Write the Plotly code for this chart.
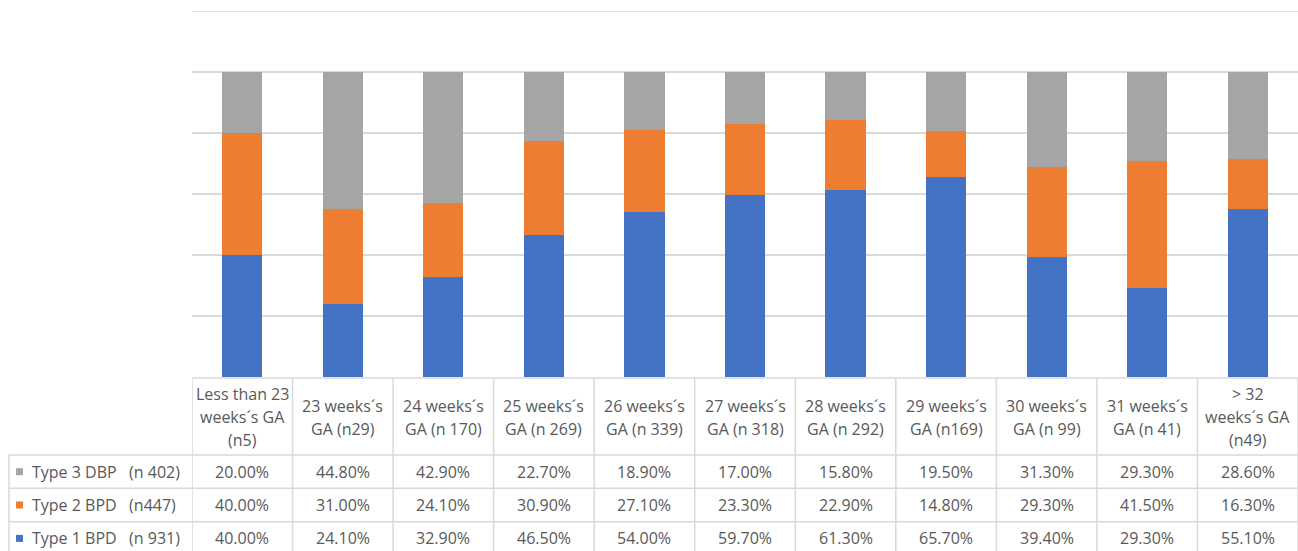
import plotly.graph_objects as go

W, H = 1298, 551

categories = [
    "Less than 23<br>weeks´s GA<br>(n5)",
    "23 weeks´s<br>GA (n29)",
    "24 weeks´s<br>GA (n 170)",
    "25 weeks´s<br>GA (n 269)",
    "26 weeks´s<br>GA (n 339)",
    "27 weeks´s<br>GA (n 318)",
    "28 weeks´s<br>GA (n 292)",
    "29 weeks´s<br>GA (n169)",
    "30 weeks´s<br>GA (n 99)",
    "31 weeks´s<br>GA (n 41)",
    "> 32<br>weeks´s GA<br>(n49)",
]
type1_bpd = [40.0, 24.1, 32.9, 46.5, 54.0, 59.7, 61.3, 65.7, 39.4, 29.3, 55.1]
type2_bpd = [40.0, 31.0, 24.1, 30.9, 27.1, 23.3, 22.9, 14.8, 29.3, 41.5, 16.3]
type3_dbp = [20.0, 44.8, 42.9, 22.7, 18.9, 17.0, 15.8, 19.5, 31.3, 29.3, 28.6]
series_names = ["Type 1 BPD  (n 931)", "Type 2 BPD  (n447)", "Type 3 DBP  (n 402)"]
colors = ["#4472C4", "#ED7D31", "#A5A5A5"]
grid_ticks = [0.0, 0.2, 0.4, 0.6, 0.8, 1.0, 1.2]

FONT = "Open Sans"
TXT = "#595959"
LINE = "#D9D9D9"

def px(xp):
    return xp / W

def py(yp):
    return 1 - yp / H

fig = go.Figure()
xs = list(range(len(categories)))
series = [type1_bpd, type2_bpd, type3_dbp]
for vals, name, col in zip(series, series_names, colors):
    fig.add_trace(go.Bar(x=xs, y=[v / 100 for v in vals], name=name,
                         marker=dict(color=col, line=dict(width=0)), width=0.4))

shapes = []
annotations = []

# top gridline (at range edge, plotly omits it)
shapes.append(dict(type="line", xref="paper", yref="y", x0=px(192), x1=1,
                   y0=grid_ticks[-1], y1=grid_ticks[-1], layer="below",
                   line=dict(color=LINE, width=1.5)))
# table top border
shapes.append(dict(type="line", xref="x", yref="paper", x0=-0.5, x1=len(categories) - 0.5,
                   y0=py(378), y1=py(378), line=dict(color=LINE, width=1.5)))
# row lines
row_tops = [455, 488.3, 521.7]
for yy in row_tops:
    shapes.append(dict(type="line", xref="paper", yref="paper", x0=px(9), x1=1,
                       y0=py(yy), y1=py(yy), line=dict(color=LINE, width=1.5)))
# vertical lines
for i in range(len(categories) + 1):
    shapes.append(dict(type="line", xref="x", yref="paper", x0=i - 0.5, x1=i - 0.5,
                       y0=py(378), y1=-0.05, line=dict(color=LINE, width=1.5)))
shapes.append(dict(type="line", xref="paper", yref="paper", x0=px(9), x1=px(9),
                   y0=py(455), y1=-0.05, line=dict(color=LINE, width=1.5)))

# header labels
for i, lab in enumerate(categories):
    lines = lab.split("<br>")
    n = len(lines)
    for j, ln in enumerate(lines):
        yc = 417 + (j - (n - 1) / 2) * 23
        annotations.append(dict(xref="x", yref="paper", x=i, y=py(yc), text=ln,
                                showarrow=False, xanchor="center", yanchor="middle",
                                font=dict(family=FONT, size=16, color=TXT)))

# rows: top row = type 3, then type 2, then type 1
row_order = [2, 1, 0]
for r, si in enumerate(row_order):
    yc = (row_tops[r] + (row_tops[r] + 33.4)) / 2
    shapes.append(dict(type="rect", xref="paper", yref="paper",
                       x0=px(16), x1=px(23), y0=py(yc - 3.5), y1=py(yc + 3.5),
                       fillcolor=colors[si], line=dict(width=0)))
    annotations.append(dict(xref="paper", yref="paper", x=px(30), y=py(yc),
                            text=series_names[si].replace("  ", "\u00a0\u00a0 "),
                            showarrow=False, xanchor="left", yanchor="middle",
                            font=dict(family=FONT, size=16, color=TXT)))
    for i, v in enumerate(series[si]):
        annotations.append(dict(xref="x", yref="paper", x=i, y=py(yc),
                                text=f"{v:.2f}%", showarrow=False,
                                xanchor="center", yanchor="middle",
                                font=dict(family=FONT, size=16, color=TXT)))

fig.update_layout(
    width=W, height=H,
    margin=dict(l=0, r=0, t=0, b=0),
    paper_bgcolor="white", plot_bgcolor="white",
    barmode="stack", bargap=0.6, showlegend=False,
    xaxis=dict(domain=[px(192), 1], range=[-0.5, len(categories) - 0.5],
               showticklabels=False, showgrid=False, zeroline=False, showline=False),
    yaxis=dict(domain=[py(377), py(11)], range=[0, 1.2], tickmode="array",
               tickvals=grid_ticks, showticklabels=False, showgrid=True,
               gridcolor=LINE, gridwidth=1.5, zeroline=False, showline=False),
    shapes=shapes, annotations=annotations,
)

fig.write_html("out.html")
